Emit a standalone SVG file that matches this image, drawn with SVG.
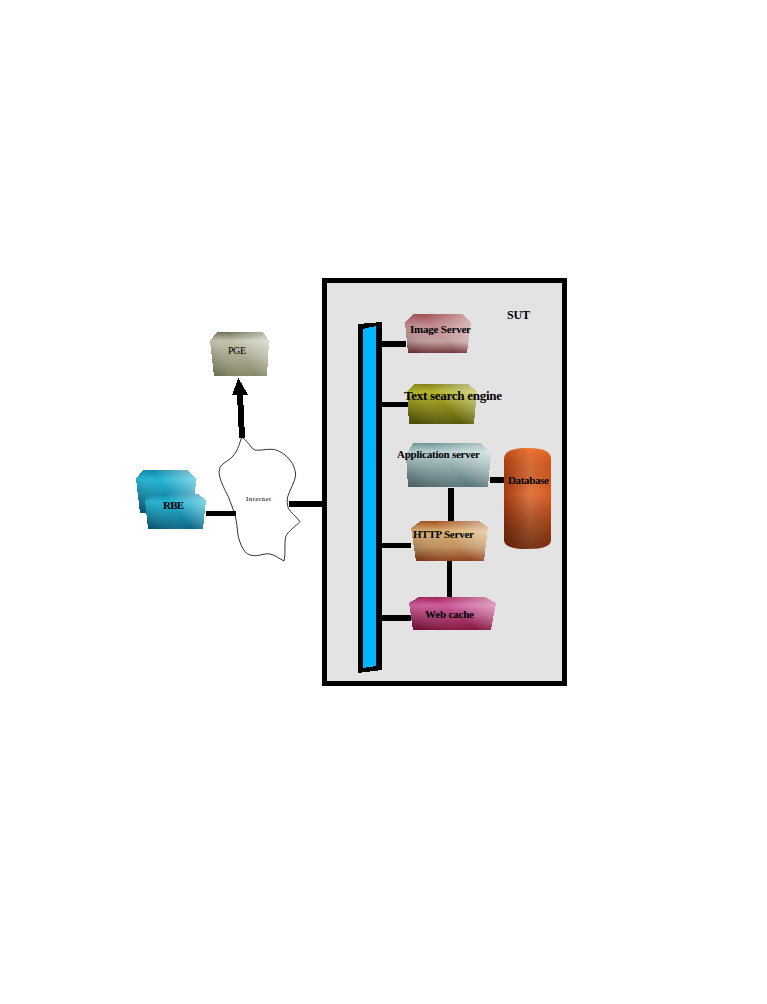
<svg xmlns="http://www.w3.org/2000/svg" width="767" height="1004" viewBox="0 0 767 1004">
<style>
.bar{fill:#000}
.sheen{fill:url(#sheen)}
polygon,rect{shape-rendering:crispEdges}
text{font-family:"Liberation Serif","Times New Roman",serif;font-weight:bold;fill:#000}
text.thin{font-weight:normal}
</style>
<defs>
<linearGradient id="sheen" x1="0" y1="0.7" x2="1" y2="0.2"><stop offset="0" stop-color="#000" stop-opacity="0.15"/><stop offset="0.5" stop-color="#fff" stop-opacity="0"/><stop offset="1" stop-color="#fff" stop-opacity="0.45"/></linearGradient>
<linearGradient id="gPge" x1="0" y1="0" x2="0" y2="1"><stop offset="0" stop-color="#6f6f58"/><stop offset="0.2" stop-color="#c4c4ae"/><stop offset="1" stop-color="#868668"/></linearGradient>
<linearGradient id="gRbe" x1="0" y1="0" x2="0" y2="1"><stop offset="0" stop-color="#0f86a8"/><stop offset="0.22" stop-color="#22b4d4"/><stop offset="1" stop-color="#0c6684"/></linearGradient>
<linearGradient id="gImg" x1="0" y1="0" x2="0" y2="1"><stop offset="0" stop-color="#a04c50"/><stop offset="0.3" stop-color="#c08c90"/><stop offset="0.7" stop-color="#c4a0a0"/><stop offset="1" stop-color="#743438"/></linearGradient>
<linearGradient id="gTxt" x1="0" y1="0" x2="0" y2="1"><stop offset="0" stop-color="#808018"/><stop offset="0.2" stop-color="#b4b428"/><stop offset="1" stop-color="#585808"/></linearGradient>
<linearGradient id="gApp" x1="0" y1="0" x2="0" y2="1"><stop offset="0" stop-color="#6a9294"/><stop offset="0.2" stop-color="#b8d0d0"/><stop offset="1" stop-color="#587478"/></linearGradient>
<linearGradient id="gHttp" x1="0" y1="0" x2="0" y2="1"><stop offset="0" stop-color="#a04c1c"/><stop offset="0.25" stop-color="#dab070"/><stop offset="0.65" stop-color="#c09060"/><stop offset="1" stop-color="#90401c"/></linearGradient>
<linearGradient id="gWeb" x1="0" y1="0" x2="0" y2="1"><stop offset="0" stop-color="#a02054"/><stop offset="0.25" stop-color="#cc5c9c"/><stop offset="1" stop-color="#84143e"/></linearGradient>
<linearGradient id="gDb" x1="0" y1="0" x2="1" y2="0"><stop offset="0" stop-color="#a83c10"/><stop offset="0.55" stop-color="#e47844"/><stop offset="1" stop-color="#dc5c20"/></linearGradient>
<linearGradient id="gDbV" x1="0" y1="0" x2="0" y2="1"><stop offset="0" stop-color="#ff7020" stop-opacity="0.4"/><stop offset="0.45" stop-color="#000" stop-opacity="0"/><stop offset="1" stop-color="#300c00" stop-opacity="0.6"/></linearGradient>
</defs>

<g id="sut"><rect x="324" y="280" width="240" height="403" fill="#e3e3e3" stroke="#000" stroke-width="5"/>
<text x="507" y="319" font-size="12" textLength="23">SUT</text></g>

<g id="internet"><path d="M241.7 437.3C239 445 238 449 235 453.3C232 459 226 461 221.7 465C219 468 219 471 219.3 475C221 483 225 490 228.3 496.7C231 503 233 509 235 515C237 522 237 529 238.3 536.7C240 543 242 548 245 551.7C248 555 252 556 256.7 555.7C262 555 266 553 270 554C275 555 280 559 284 561C286 553 284 544 285.7 536.7C288 531 296 526 300 521.7C296 516 291 513 288.3 508.3C287 504 287 501 287.7 496.7C290 489 295 482 295.7 475C295 466 291 460 285 455C280 451 275 449 270 449.3C265 449 260 451 255 450C252 449 250 445 248.3 443.3C246 441 244 438 241.7 437.3Z" fill="#fff" stroke="#000" stroke-width="0.8"/>
<text class="thin" x="246" y="501" font-size="7" textLength="25">Internet</text></g>

<g id="connectors">
<rect class="bar" x="206" y="511" width="30" height="5"/>
<rect class="bar" x="289" y="501" width="33" height="6"/>
<polygon class="bar" points="239,437.5 245,437.5 243,394 237,394"/>
<polygon class="bar" points="238.3,378 232.3,394.5 248,394.5"/>
<rect class="bar" x="382" y="341" width="24" height="6"/>
<rect class="bar" x="382" y="402" width="29" height="5"/>
<rect class="bar" x="382" y="543" width="29" height="5"/>
<rect class="bar" x="382" y="615" width="29" height="6"/>
<rect class="bar" x="448" y="488" width="6" height="35"/>
<rect class="bar" x="447" y="560" width="5" height="40"/>
<rect class="bar" x="490" y="477" width="16" height="6"/>
</g>

<g id="bus"><polygon class="bar" points="358,324 381.7,322 381.7,670 358,673"/>
<polygon fill="#00b4ff" points="363,329 376,326 376,666 363,668"/></g>

<g id="pge"><polygon fill="url(#gPge)" points="217,332 263,332 269,341 267,376 214,376 210,341"/><polygon class="sheen" points="217,332 263,332 269,341 267,376 214,376 210,341"/>
<text class="thin" x="228" y="354" font-size="10" textLength="18">PGE</text></g>

<g id="rbe-back"><polygon fill="url(#gRbe)" points="143,470 188,470 196,479 194,513 140,513 136,479"/><polygon class="sheen" points="143,470 188,470 196,479 194,513 140,513 136,479"/></g>
<g id="rbe"><polygon fill="url(#gRbe)" points="152,494 198,494 206,500 203,529 148,529 145,500"/><polygon class="sheen" points="152,494 198,494 206,500 203,529 148,529 145,500"/>
<text x="163" y="509" font-size="11" textLength="21">RBE</text></g>

<g id="image-server"><polygon fill="url(#gImg)" points="413,314 462,314 471,323 467,353 408,353 405,323"/><polygon class="sheen" points="413,314 462,314 471,323 467,353 408,353 405,323"/>
<text x="410" y="333" font-size="11" textLength="61">Image Server</text></g>

<g id="text-search"><polygon fill="url(#gTxt)" points="415,384 468,384 477,391 474,424 409,424 407,391"/><polygon class="sheen" points="415,384 468,384 477,391 474,424 409,424 407,391"/>
<text x="404" y="400" font-size="13" textLength="98">Text search engine</text></g>

<g id="app-server"><polygon fill="url(#gApp)" points="413,443 480,443 491,453 488,487 408,487 406,455"/><polygon class="sheen" points="413,443 480,443 491,453 488,487 408,487 406,455"/>
<text x="397" y="458" font-size="11" textLength="83">Application server</text></g>

<g id="database"><path d="M504 459Q504 448 527.5 448Q551 448 551 459V540Q551 549 527.5 549Q504 549 504 540Z" fill="url(#gDb)"/><path d="M504 459Q504 448 527.5 448Q551 448 551 459V540Q551 549 527.5 549Q504 549 504 540Z" fill="url(#gDbV)"/>
<text x="508" y="484" font-size="11" textLength="41">Database</text></g>

<g id="http-server"><polygon fill="url(#gHttp)" points="421,521 479,521 488,527 484,561 416,561 411,528"/><polygon class="sheen" points="421,521 479,521 488,527 484,561 416,561 411,528"/>
<text x="413" y="538" font-size="11" textLength="61">HTTP Server</text></g>

<g id="web-cache"><polygon fill="url(#gWeb)" points="419,597 485,597 496,603 491,630 413,630 409,603"/><polygon class="sheen" points="419,597 485,597 496,603 491,630 413,630 409,603"/>
<text x="425" y="618" font-size="11" textLength="49">Web cache</text></g>
</svg>
